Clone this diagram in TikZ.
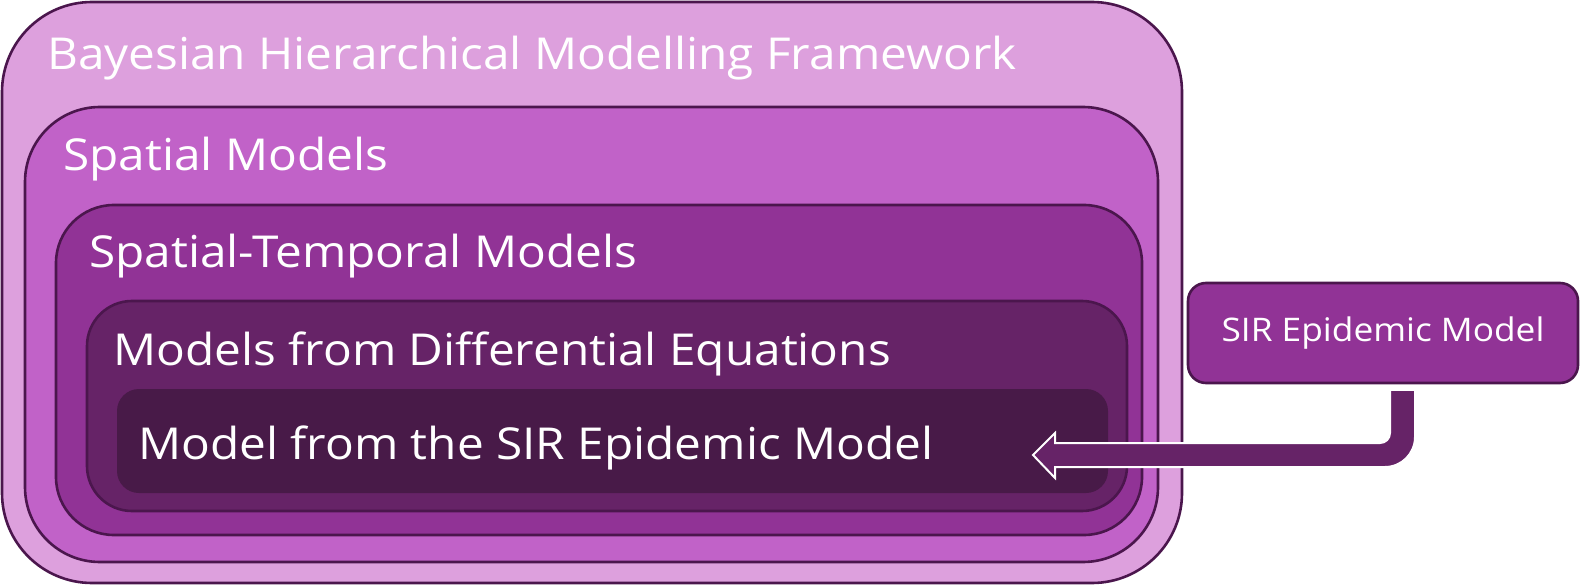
\documentclass[tikz,border=0pt]{standalone}
\usepackage{fontspec}
\setmainfont{Open Sans}[FakeStretch=1.085]
\definecolor{cA}{HTML}{DDA0DD}
\definecolor{cB}{HTML}{C162C8}
\definecolor{cC}{HTML}{913396}
\definecolor{cD}{HTML}{662367}
\definecolor{cE}{HTML}{481A48}
\definecolor{cStroke}{HTML}{4B164D}
\tikzset{
  layer/.style={draw=cStroke, line width=2.6pt, inner sep=0pt, outer sep=0pt},
  lbl/.style={text=white, anchor=base west, inner sep=0pt, font=\fontsize{44}{48}\selectfont},
}
\begin{document}
\begin{tikzpicture}[x=1pt,y=-1pt]
\useasboundingbox (0,0) rectangle (1581,585);
\node[layer, fill=cA, rounded corners=90pt, minimum width=1180pt, minimum height=581pt] (b1) at (592,292.5) {};
\node[layer, fill=cB, rounded corners=75pt, minimum width=1133pt, minimum height=455pt] (b2) at (591.5,334.5) {};
\node[layer, fill=cC, rounded corners=58pt, minimum width=1086pt, minimum height=330pt] (b3) at (599,370) {};
\node[layer, fill=cD, rounded corners=45pt, minimum width=1040pt, minimum height=210pt] (b4) at (607,406) {};
\node[fill=cE, rounded corners=22pt, inner sep=0pt, minimum width=991pt, minimum height=104pt] (b5) at (612.5,441) {};
\node[layer, fill=cC, rounded corners=18pt, minimum width=390pt, minimum height=100pt] (sir) at (1383,333) {};
\node[text=white, inner sep=0pt, font=\fontsize{32.5}{36}\selectfont] (sirt) at (1383,333) {SIR Epidemic Model};
\node[lbl] (t1) at (47,70) {Bayesian Hierarchical Modelling Framework};
\node[lbl] (t2) at (63,171) {Spatial Models};
\node[lbl] (t3) at (89,267) {Spatial-Temporal Models};
\node[lbl] (t4) at (113,365) {Models from Differential Equations};
\node[lbl] (t5) at (138,459) {Model from the SIR Epidemic Model};
% arrow
\coordinate (a1) at (1390,391);
\coordinate (a2) at (1390,433);
\coordinate (a4) at (1055,443);
\coordinate (a5) at (1055,433);
\coordinate (tip) at (1033,455);
\coordinate (a6) at (1055,478);
\coordinate (a7) at (1055,467);
\coordinate (a8) at (1385,467);
\coordinate (a10) at (1415,391);
\fill[cD] (a1) -- (a2) arc[start angle=0, end angle=90, radius=10] -- (a4) -- (a5) -- (tip) -- (a6) -- (a7) -- (a8) arc[start angle=90, end angle=0, radius=30] -- (a10) -- cycle;
\draw[white, line width=2pt, line join=miter] (a1) -- (a2) arc[start angle=0, end angle=90, radius=10] -- (a4) -- (a5) -- (tip) -- (a6) -- (a7) -- (a8) arc[start angle=90, end angle=0, radius=30] -- (a10);
\end{tikzpicture}
\end{document}
